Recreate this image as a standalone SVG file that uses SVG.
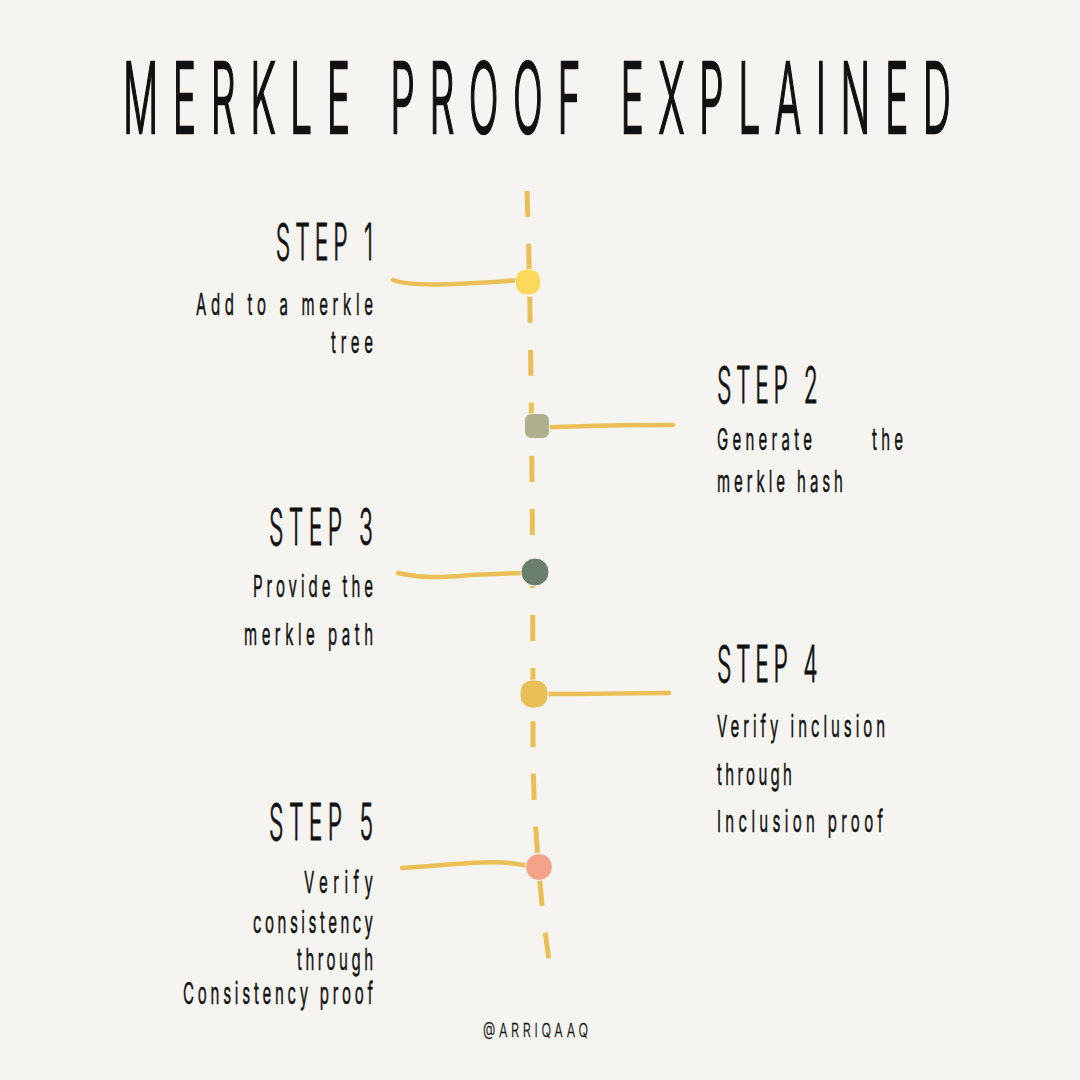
<svg xmlns="http://www.w3.org/2000/svg" width="1080" height="1080" viewBox="0 0 1080 1080">
<style>
text{font-family:Inter,"Liberation Sans","DejaVu Sans",sans-serif;fill:#111;stroke:#111;}
.title{font-size:98px;font-weight:300;stroke-width:2.4;}
.head{font-size:51px;font-weight:300;stroke-width:0.9;}
.body{font-size:30px;font-weight:400;stroke-width:0.5;}
.foot{font-size:18px;font-weight:300;stroke-width:0.3;}
.r{text-anchor:end;}
.line{fill:none;stroke:#E9BF56;stroke-width:4.5;stroke-linecap:round;}
.spine{fill:none;stroke:#E9BF56;stroke-width:5;stroke-dasharray:26 27;}
.node{stroke:#F6F4F0;stroke-width:1;}
</style>
<rect width="1080" height="1080" fill="#F6F4F0"/>
<text class="title" transform="translate(123,133) scale(0.4,1)" textLength="2070" lengthAdjust="spacing">MERKLE PROOF EXPLAINED</text>
<g id="connectors">
<path class="spine" d="M527,191 C532,330 533,600 533,760 C534,820 540,900 549,960"/>
<path class="line" d="M393,280 C410,286 440,286 520,280"/>
<path class="line" d="M545,427 C570,427 590,425 673,425"/>
<path class="line" d="M398,573 C420,578 440,578 470,575 L525,573"/>
<path class="line" d="M545,694 C600,694 630,693 669,693"/>
<path class="line" d="M402,868 C440,866 480,860 510,863 L530,866"/>
</g>
<g id="step1">
<rect class="node" x="515.5" y="269.5" width="25" height="25" rx="10" fill="#FDD85A"/>
<text class="head r" transform="translate(373,260) scale(0.45,1)" textLength="216" lengthAdjust="spacing">STEP 1</text>
<text class="body r" transform="translate(373,315) scale(0.5,1)" textLength="354" lengthAdjust="spacing">Add to a merkle</text>
<text class="body r" transform="translate(373,353) scale(0.5,1)" textLength="84" lengthAdjust="spacing">tree</text>
</g>
<g id="step2">
<rect class="node" x="524.5" y="413.5" width="25" height="25" rx="7" fill="#AEAF8D"/>
<text class="head" transform="translate(717,403) scale(0.45,1)" textLength="224" lengthAdjust="spacing">STEP 2</text>
<text class="body" transform="translate(717,450) scale(0.5,1)" textLength="190" lengthAdjust="spacing">Generate</text>
<text class="body" transform="translate(872,450) scale(0.5,1)" textLength="62" lengthAdjust="spacing">the</text>
<text class="body" transform="translate(717,492) scale(0.5,1)" textLength="252" lengthAdjust="spacing">merkle hash</text>
</g>
<g id="step3">
<circle class="node" cx="535" cy="572" r="14" fill="#6A7F6B"/>
<text class="head r" transform="translate(373,545) scale(0.45,1)" textLength="231" lengthAdjust="spacing">STEP 3</text>
<text class="body r" transform="translate(373,597) scale(0.5,1)" textLength="240" lengthAdjust="spacing">Provide the</text>
<text class="body r" transform="translate(373,645) scale(0.5,1)" textLength="258" lengthAdjust="spacing">merkle path</text>
</g>
<g id="step4">
<rect class="node" x="520" y="680" width="28" height="28" rx="12" fill="#E9BF58"/>
<text class="head" transform="translate(717,682) scale(0.45,1)" textLength="224" lengthAdjust="spacing">STEP 4</text>
<text class="body" transform="translate(717,737) scale(0.5,1)" textLength="336" lengthAdjust="spacing">Verify inclusion</text>
<text class="body" transform="translate(717,785) scale(0.5,1)" textLength="150" lengthAdjust="spacing">through</text>
<text class="body" transform="translate(717,832) scale(0.5,1)" textLength="332" lengthAdjust="spacing">Inclusion proof</text>
</g>
<g id="step5">
<circle class="node" cx="539" cy="867" r="13.5" fill="#F4A38B"/>
<text class="head r" transform="translate(373,840) scale(0.45,1)" textLength="231" lengthAdjust="spacing">STEP 5</text>
<text class="body r" transform="translate(373,893) scale(0.5,1)" textLength="138" lengthAdjust="spacing">Verify</text>
<text class="body r" transform="translate(373,933) scale(0.5,1)" textLength="240" lengthAdjust="spacing">consistency</text>
<text class="body r" transform="translate(373,970) scale(0.5,1)" textLength="152" lengthAdjust="spacing">through</text>
<text class="body r" transform="translate(373,1004) scale(0.5,1)" textLength="380" lengthAdjust="spacing">Consistency proof</text>
</g>
<text class="foot" transform="translate(483,1037) scale(0.7,1)" textLength="150" lengthAdjust="spacing">@ARRIQAAQ</text>
</svg>
